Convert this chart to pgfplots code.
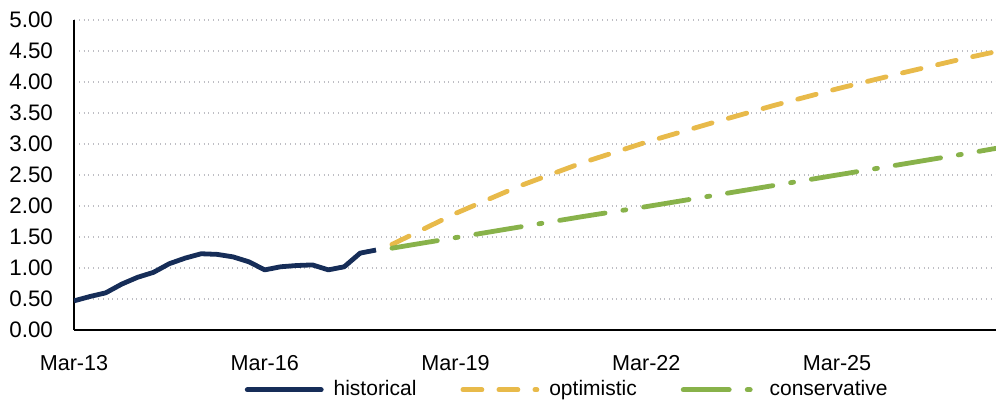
\documentclass[border=0pt]{standalone}
\usepackage{fontspec}
\setmainfont{Liberation Sans}
\usepackage{pgfplots}
\pgfplotsset{compat=1.18}
\definecolor{histc}{RGB}{22,45,88}
\definecolor{optic}{RGB}{232,186,74}
\definecolor{consc}{RGB}{136,178,74}
\definecolor{gridc}{RGB}{190,190,196}
\begin{document}
\begin{tikzpicture}
\begin{axis}[
  scale only axis,
  width=461pt, height=155pt,
  xmin=0, xmax=58, ymin=0, ymax=5,
  axis x line*=bottom, axis y line*=left,
  axis line style={black, line width=1pt, -},
  xtick={0,12,24,36,48},
  xticklabels={Mar-13,Mar-16,Mar-19,Mar-22,Mar-25},
  ytick={0,0.5,...,5},
  major tick length=0pt,
  ymajorgrids,
  grid style={gridc, dotted, line width=0.8pt},
  /pgf/number format/assume math mode=true,
  yticklabel style={/pgf/number format/fixed, /pgf/number format/fixed zerofill, /pgf/number format/precision=2, xshift=-7pt, font=\fontsize{11.2}{13}\selectfont},
  xticklabel style={yshift=-9pt, font=\fontsize{10.8}{13}\selectfont},
  legend style={draw=none, at={(0.536,-0.193)}, anchor=center, legend columns=3,
    font=\fontsize{10.5}{12}\selectfont, /tikz/every even column/.append style={column sep=20pt}},
  legend image code/.code={\draw[#1, line cap=round] (0pt,0pt) -- (37pt,0pt); \path (40pt,0pt);},
]
\coordinate (sw) at (rel axis cs:0,0);
\coordinate (ne) at (rel axis cs:1,1);
\addplot[histc, line width=2.4pt, line join=round] coordinates {
 (0,0.47) (1,0.54) (2,0.60) (3,0.74) (4,0.85) (5,0.93) (6,1.07) (7,1.16)
 (8,1.23) (9,1.22) (10,1.18) (11,1.10) (12,0.97) (13,1.02) (14,1.04) (15,1.05)
 (16,0.97) (17,1.02) (18,1.24) (19,1.29)};
\addlegendentry{historical}
\addplot[optic, line width=2.4pt, line cap=round, dash pattern=on 9.5pt off 8.5pt] coordinates {
 (20,1.38) (24,1.88) (28,2.32) (32,2.70) (36,3.03) (40,3.33) (44,3.62)
 (48,3.89) (52,4.14) (56,4.38) (58,4.49)};
\addlegendentry{optimistic}
\addplot[consc, line width=2.4pt, line cap=round, dash pattern=on 23pt off 9pt on 1.5pt off 9pt] coordinates {
 (20,1.32) (24,1.49) (28,1.66) (32,1.83) (36,1.99) (40,2.16) (44,2.33)
 (48,2.50) (52,2.67) (56,2.84) (58,2.93)};
\addlegendentry{conservative}
\end{axis}
\pgfresetboundingbox
\path ([xshift=-37pt,yshift=-41.5pt]sw) rectangle ([yshift=10pt]ne);
\end{tikzpicture}
\end{document}
